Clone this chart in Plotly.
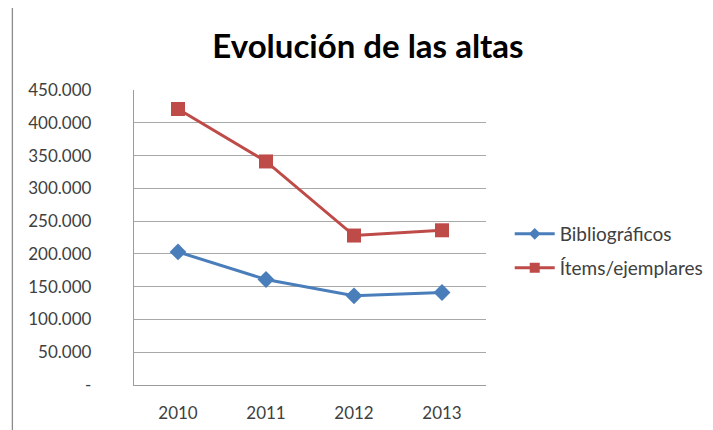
import plotly.graph_objects as go

years = ["2010", "2011", "2012", "2013"]
bibliograficos = [203000, 161000, 136000, 141000]
items = [421000, 341000, 228000, 236000]
ytick_vals = [0, 50000, 100000, 150000, 200000, 250000, 300000, 350000, 400000, 450000]
ytick_text = ["-", "50.000", "100.000", "150.000", "200.000", "250.000", "300.000", "350.000", "400.000", "450.000"]

FONT = "Lato"
W, H = 713, 430
OFF = 8  # page body margin shifts the figure by this many pixels
PL, PR, PT, PB = 134, 490, 90, 385
L = PL - OFF
T = PT - OFF
pw, ph = PR - PL, PB - PT
R = W - L - pw
B = H - T - ph

BLUE = "#4a7ebb"
RED = "#be4b48"

def px_x(p):
    return (p - PL) / pw

def px_y(p):
    return (PB - p) / ph

fig = go.Figure()
fig.add_trace(go.Scatter(
    x=years, y=bibliograficos, name="Bibliográficos", mode="lines+markers",
    line=dict(color=BLUE, width=3),
    marker=dict(symbol="diamond", size=13, color=BLUE),
    showlegend=False,
))
fig.add_trace(go.Scatter(
    x=years, y=items, name="Ítems/ejemplares", mode="lines+markers",
    line=dict(color=RED, width=3),
    marker=dict(symbol="square", size=14, color=RED),
    showlegend=False,
))
# legend entries with smaller symbols, as in the original
fig.add_trace(go.Scatter(
    x=[None], y=[None], name="Bibliográficos", mode="lines+markers",
    line=dict(color=BLUE, width=3),
    marker=dict(symbol="diamond", size=9, color=BLUE),
    legend="legend", showlegend=True,
))
fig.add_trace(go.Scatter(
    x=[None], y=[None], name="Ítems/ejemplares", mode="lines+markers",
    line=dict(color=RED, width=3),
    marker=dict(symbol="square", size=10, color=RED),
    legend="legend2", showlegend=True,
))

fig.update_layout(
    width=W, height=H,
    margin=dict(l=L, r=R, t=T, b=B),
    showlegend=True,
    paper_bgcolor="white", plot_bgcolor="white",
    font=dict(family=FONT, size=17, color="#404040"),
    title=dict(text="<b>Evolución de las altas</b>", x=(368 - OFF) / W, xanchor="center",
               y=1 - (46 - OFF) / H, yanchor="middle",
               font=dict(family=FONT, size=33, color="#000000")),
    legend=dict(x=px_x(514), y=px_y(234), xanchor="left", yanchor="middle",
                itemwidth=40,
                font=dict(family=FONT, size=19, color="#404040"), bgcolor="rgba(0,0,0,0)"),
    legend2=dict(x=px_x(514), y=px_y(268), xanchor="left", yanchor="middle",
                 itemwidth=40,
                 font=dict(family=FONT, size=19, color="#404040"), bgcolor="rgba(0,0,0,0)"),
    xaxis=dict(type="category", range=[-0.5, 3.5], showgrid=False,
               showline=True, linecolor="#9c9c9c", linewidth=1.3,
               ticks="", tickfont=dict(family=FONT, size=17, color="#404040"),
               ticklabelstandoff=12),
    yaxis=dict(range=[0, 450000], tickvals=ytick_vals, ticktext=ytick_text,
               showgrid=True, gridcolor="#a8a8a8", gridwidth=1.2,
               showline=True, linecolor="#9c9c9c", linewidth=1.3,
               zeroline=False, ticks="",
               tickfont=dict(family=FONT, size=17, color="#404040"),
               ticklabelstandoff=38),
    shapes=[
        dict(type="rect", xref="paper", yref="paper",
             x0=px_x(11), x1=px_x(740), y0=px_y(450), y1=px_y(6),
             line=dict(color="#8c8c8c", width=1.3), fillcolor="rgba(0,0,0,0)", layer="below"),
    ],
)

fig.write_html("out.html")
